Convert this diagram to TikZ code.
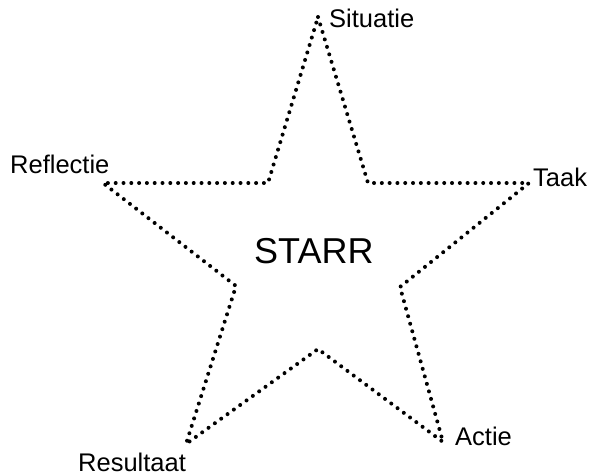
\documentclass[tikz,border=0pt]{standalone}
\usepackage{fontspec}
\setmainfont{Liberation Sans}
\begin{document}
\begin{tikzpicture}[x=1pt,y=-1pt,
  starline/.style={line width=4pt, line cap=round, dash pattern=on 0pt off 7.8pt},
  lbl/.style={inner sep=0pt, anchor=base west, font=\fontsize{25.5}{30}\selectfont},
  title/.style={inner sep=0pt, anchor=base west, font=\fontsize{36}{42}\selectfont}]
\useasboundingbox (0,0) rectangle (594,475);
\coordinate (P1) at (318,17);
\coordinate (I1) at (368,183);
\coordinate (P2) at (529,183);
\coordinate (I2) at (400,287);
\coordinate (P3) at (443,442);
\coordinate (I3) at (318,349);
\coordinate (P4) at (186,444);
\coordinate (I4) at (236,286);
\coordinate (P5) at (103,183);
\coordinate (I5) at (268,183);
\draw[starline] (P1) -- (I1) -- (P2) -- (I2) -- (P3) -- (I3) -- (P4) -- (I4) -- (P5) -- (I5) -- cycle;
\node[lbl] (sit) at (329,27) {Situatie};
\node[lbl] (taak) at (533,186) {Taak};
\node[lbl] (act) at (455,445) {Actie};
\node[lbl] (res) at (78,471) {Resultaat};
\node[lbl] (ref) at (10,173) {Reflectie};
\node[title] (starr) at (254,263) {STARR};
\end{tikzpicture}
\end{document}
